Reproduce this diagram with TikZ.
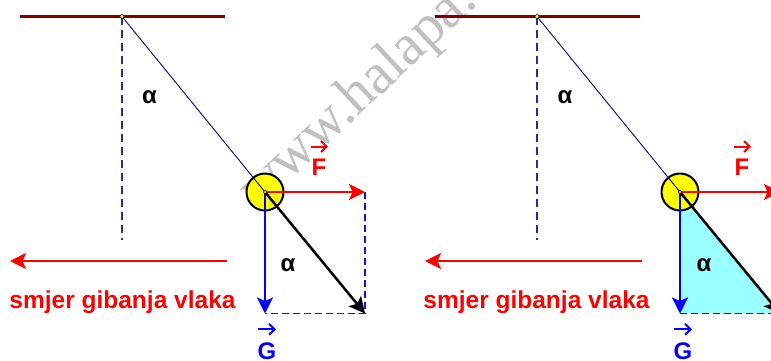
\documentclass[tikz,border=0pt]{standalone}
\usepackage{fontspec}
\setmainfont{Liberation Sans}
\newfontfamily\wmfont{Liberation Serif}
\usetikzlibrary{arrows.meta}
\definecolor{ceilcol}{RGB}{128,0,0}
\definecolor{stringcol}{RGB}{0,0,128}
\definecolor{dashcol}{RGB}{20,20,200}
\definecolor{plumbcol}{RGB}{40,40,170}
\definecolor{wmcol}{RGB}{192,192,192}
\definecolor{trianglecol}{RGB}{153,255,255}
\definecolor{bobcol}{RGB}{255,255,0}
\tikzset{
  tipbig/.tip={Stealth[length=16pt,width=16pt,inset=3.5pt]},
  ceil/.style={draw=ceilcol,line width=2.5pt},
  plumb/.style={draw=plumbcol,line width=1.1pt,dash pattern=on 8pt off 5pt},
  stringln/.style={draw=stringcol,line width=0.9pt},
  bob/.style={circle,draw=black,fill=bobcol,line width=2pt,minimum size=37pt,inner sep=0pt},
  pivdot/.style={circle,draw=black,fill=bobcol,line width=0.5pt,minimum size=4pt,inner sep=0pt},
  forceF/.style={draw=red,line width=2.2pt,-tipbig},
  forceG/.style={draw=blue,line width=2.5pt,-tipbig},
  forceR/.style={draw=black,line width=2.5pt,-tipbig},
  helper/.style={draw=dashcol,line width=1.2pt,dash pattern=on 7pt off 4pt},
  trainarr/.style={draw=red,line width=2.2pt,-tipbig},
  alphalbl/.style={font=\bfseries\fontsize{24}{26}\selectfont,inner sep=0pt},
  veclbl/.style={font=\bfseries\fontsize{24}{26}\selectfont,inner sep=0pt},
  vecarrow/.style={line width=2pt,-{Straight Barb[length=5.5pt,width=11pt,line width=2pt]}},
  motiontxt/.style={font=\bfseries\fontsize{24.5}{27}\selectfont,text=red,inner sep=0pt,anchor=base},
  wm/.style={font=\wmfont\fontsize{58}{60}\selectfont,text=wmcol,inner sep=0pt,anchor=base west}
}
\begin{document}
\begin{tikzpicture}[x=1pt,y=-1pt]
\useasboundingbox (0,0) rectangle (771,360);
\clip (0,0) rectangle (771,360);
% watermark
\node[wm,rotate=43] (wmark) at (258,210) {www.halapa.com};

% ---------- left panel ----------
\coordinate (pivL) at (122,16.5);
\coordinate (ceilLa) at (20,16.5);
\coordinate (ceilLb) at (225,16.5);
\coordinate (vertL) at (122,240);
\coordinate (FtipL) at (365,192);
\coordinate (GtipL) at (265,313.5);
\coordinate (RtipL) at (365,313.5);
\coordinate (trainLa) at (227,261);
\coordinate (trainLb) at (10,261);
\draw[plumb] (pivL) -- (vertL);
\draw[ceil] (ceilLa) -- (ceilLb);
\node[bob] (bobL) at (265,192) {};
\draw[stringln] (pivL) -- (bobL.center);
\node[pivdot] (pdL) at (pivL) {};
\draw[helper] (FtipL) -- (RtipL) -- (GtipL);
\draw[forceF] (bobL.center) -- (FtipL);
\draw[forceG] (bobL.center) -- (GtipL);
\draw[forceR] (bobL.center) -- (RtipL);
\node[pivdot,minimum size=3.5pt] (cdL) at (bobL.center) {};
\draw[trainarr] (trainLa) -- (trainLb);
\node[alphalbl] (a1L) at (149.5,97.5) {α};
\node[alphalbl] (a2L) at (288,265) {α};
\node[veclbl,text=red] (FL) at (319,167) {F};
\draw[vecarrow,red] ([shift={(-8,-12)}]FL.north) -- ([shift={(9,-12)}]FL.north);
\node[veclbl,text=blue] (GL) at (267,351) {G};
\draw[vecarrow,blue] ([shift={(-9,-13)}]GL.north) -- ([shift={(9,-13)}]GL.north);
\node[motiontxt] (txtL) at (122.5,308) {smjer gibanja vlaka};

% ---------- right panel ----------
\coordinate (pivR) at (537,16.5);
\coordinate (ceilRa) at (435,16.5);
\coordinate (ceilRb) at (640,16.5);
\coordinate (vertR) at (537,240);
\coordinate (FtipR) at (780,192);
\coordinate (GtipR) at (680,313.5);
\coordinate (RtipR) at (780,313.5);
\coordinate (cR) at (680,192);
\coordinate (trainRa) at (642,261);
\coordinate (trainRb) at (425,261);
\fill[trianglecol] (cR) -- (GtipR) -- (RtipR) -- cycle;
\draw[plumb] (pivR) -- (vertR);
\draw[ceil] (ceilRa) -- (ceilRb);
\node[bob] (bobR) at (cR) {};
\draw[stringln] (pivR) -- (bobR.center);
\node[pivdot] (pdR) at (pivR) {};
\draw[helper] (GtipR) -- (RtipR);
\draw[forceF] (bobR.center) -- (FtipR);
\draw[forceG] (bobR.center) -- (GtipR);
\draw[forceR] (bobR.center) -- (RtipR);
\node[pivdot,minimum size=3.5pt] (cdR) at (bobR.center) {};
\draw[trainarr] (trainRa) -- (trainRb);
\node[alphalbl] (a1R) at (565,97.5) {α};
\node[alphalbl] (a2R) at (704,265) {α};
\node[veclbl,text=red] (FR) at (742,167) {F};
\draw[vecarrow,red] ([shift={(-8,-12)}]FR.north) -- ([shift={(9,-12)}]FR.north);
\node[veclbl,text=blue] (GR) at (683,351) {G};
\draw[vecarrow,blue] ([shift={(-9,-13)}]GR.north) -- ([shift={(9,-13)}]GR.north);
\node[motiontxt] (txtR) at (536.5,308) {smjer gibanja vlaka};
\end{tikzpicture}
\end{document}
